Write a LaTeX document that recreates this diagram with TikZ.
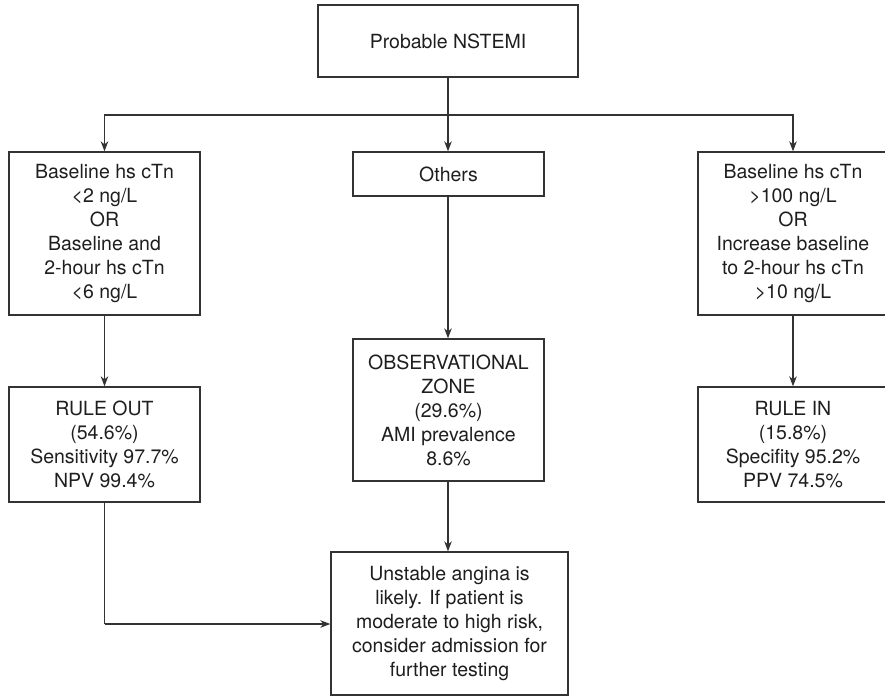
\documentclass[tikz,border=0pt]{standalone}
\usepackage{fontspec}
\setmainfont{TeX Gyre Heros}
\usetikzlibrary{arrows.meta}
\definecolor{ln}{HTML}{333333}
\definecolor{tx}{HTML}{1E1E1E}
\tikzset{
  box/.style={draw=ln, line width=1.3pt, align=center, inner sep=0pt,
    text=tx, font=\fontsize{19.5}{24}\selectfont},
  conn/.style={draw=ln, line width=1.3pt},
  arr/.style={conn, -{Stealth[length=10pt,width=7.5pt,inset=3pt]}}
}
\begin{document}
\begin{tikzpicture}[x=1pt,y=-1pt]
\useasboundingbox (0,0) rectangle (885,696);
\clip (0,0) rectangle (885,696);
\node[box, minimum width=260pt, minimum height=72pt] (top) at (448,41) {Probable NSTEMI};
\coordinate (j) at (448,115);
\node[box, minimum width=191pt, minimum height=163pt] (left) at (104.5,233.5)
  {Baseline hs cTn\\<2 ng/L\\OR\\Baseline and\\2-hour hs cTn\\<6 ng/L};
\node[box, minimum width=191pt, minimum height=44pt] (others) at (448.5,174) {Others};
\node[box, minimum width=190pt, minimum height=163pt] (right) at (793,233.5)
  {Baseline hs cTn\\>100 ng/L\\OR\\Increase baseline\\to 2-hour hs cTn\\>10 ng/L};
\node[box, minimum width=191pt, minimum height=115pt] (ruleout) at (104.5,444.5)
  {RULE OUT\\(54.6\%)\\Sensitivity 97.7\%\\NPV 99.4\%};
\node[box, minimum width=191pt, minimum height=142pt] (obs) at (448.5,410)
  {OBSERVATIONAL\\ZONE\\(29.6\%)\\AMI prevalence\\8.6\%};
\node[box, minimum width=190pt, minimum height=115pt] (rulein) at (793,444.5)
  {RULE IN\\(15.8\%)\\Specifity 95.2\%\\PPV 74.5\%};
\node[box, minimum width=237pt, minimum height=143pt] (unst) at (449.5,623.5)
  {Unstable angina is\\likely. If patient is\\moderate to high risk,\\consider admission for\\further testing};
\coordinate (c) at (104.5,624);
\draw[conn] (top.south) -- (j);
\draw[arr] (j) -| (left.north);
\draw[arr] (j) -| (right.north);
\draw[arr] (j) -- (others.north -| j);
\draw[arr] (left) -- (ruleout);
\draw[arr] (right) -- (rulein);
\draw[arr] (others.south -| j) -- (obs.north -| j);
\draw[arr] (obs.south -| j) -- (unst.north -| j);
\draw[conn] (ruleout.south) -- (c);
\draw[arr] (c) -- (unst.west |- c);
\end{tikzpicture}
\end{document}
